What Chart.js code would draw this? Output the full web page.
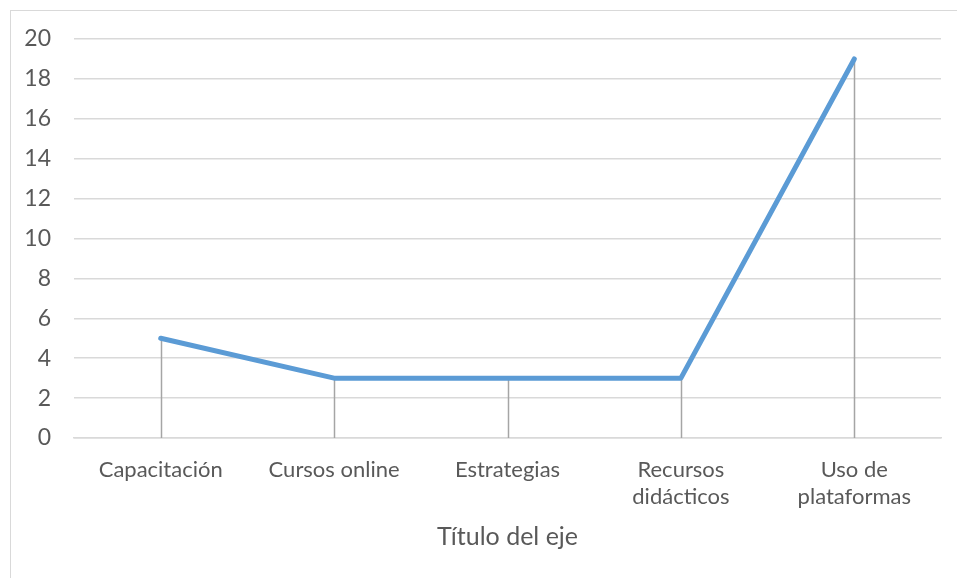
<!DOCTYPE html>
<html>
<head>
<meta charset="utf-8">
<script src="https://cdn.jsdelivr.net/npm/chart.js@4/dist/chart.umd.min.js"></script>
<style>
html,body{margin:0;padding:0;background:#fff;}
#wrap{position:relative;width:957px;height:578px;}
canvas{display:block;}
</style>
</head>
<body>
<div id="wrap"><canvas id="c" width="957" height="578"></canvas></div>
<script>
const categories = ["Capacitación", "Cursos online", "Estrategias", ["Recursos", "didácticos"], ["Uso de", "plataformas"]];
const seriesValues = [5, 3, 3, 3, 19];
const yTicks = [0, 2, 4, 6, 8, 10, 12, 14, 16, 18, 20];
const axisTitle = "Título del eje";

const FONT = "Lato, 'Noto Sans', sans-serif";

const frame = {
  id: 'frame',
  beforeDraw(chart) {
    const ctx = chart.ctx;
    ctx.save();
    ctx.strokeStyle = '#D9D9D9';
    ctx.lineWidth = 1;
    ctx.strokeRect(10.5, 10.5, 1000, 1000);
    ctx.restore();
  }
};

const dropLines = {
  id: 'dropLines',
  beforeDatasetsDraw(chart) {
    const ctx = chart.ctx;
    const meta = chart.getDatasetMeta(0);
    const yScale = chart.scales.y;
    const base = yScale.getPixelForValue(0);
    ctx.save();
    ctx.strokeStyle = '#A5A5A5';
    ctx.lineWidth = 1.5;
    meta.data.forEach(pt => {
      ctx.beginPath();
      ctx.moveTo(Math.round(pt.x) + 0.5, pt.y);
      ctx.lineTo(Math.round(pt.x) + 0.5, base);
      ctx.stroke();
    });
    ctx.restore();
  }
};

new Chart(document.getElementById('c'), {
  type: 'line',
  data: {
    labels: categories,
    datasets: [{
      data: seriesValues,
      borderColor: '#5B9BD5',
      borderWidth: 5,
      borderCapStyle: 'round',
      borderJoinStyle: 'round',
      pointRadius: 0,
      tension: 0,
      fill: false
    }]
  },
  options: {
    responsive: false,
    animation: false,
    devicePixelRatio: 1,
    layout: { padding: { left: 0, right: 16, top: 39, bottom: 0 } },
    plugins: { legend: { display: false }, tooltip: { enabled: false } },
    scales: {
      x: {
        offset: true,
        grid: { display: false, drawTicks: false },
        border: { display: true, color: '#D9D9D9', width: 1.5 },
        ticks: {
          color: '#595959',
          font: { family: FONT, size: 22, lineHeight: 1.24 },
          padding: 18,
          maxRotation: 0,
          autoSkip: false
        },
        title: {
          display: true,
          text: axisTitle,
          color: '#595959',
          font: { family: FONT, size: 25, lineHeight: 1.2 },
          padding: { top: 0, bottom: 26 }
        },
        afterFit(scale) { scale.height = 140; }
      },
      y: {
        min: 0,
        max: 20,
        afterBuildTicks(scale) { scale.ticks = yTicks.map(v => ({ value: v })); },
        grid: { color: '#D9D9D9', lineWidth: 1.5, drawTicks: false },
        border: { display: false },
        ticks: {
          color: '#595959',
          font: { family: FONT, size: 23 },
          padding: 23
        },
        afterFit(scale) { scale.width = 74; }
      }
    }
  },
  plugins: [frame, dropLines]
});
</script>
</body>
</html>
